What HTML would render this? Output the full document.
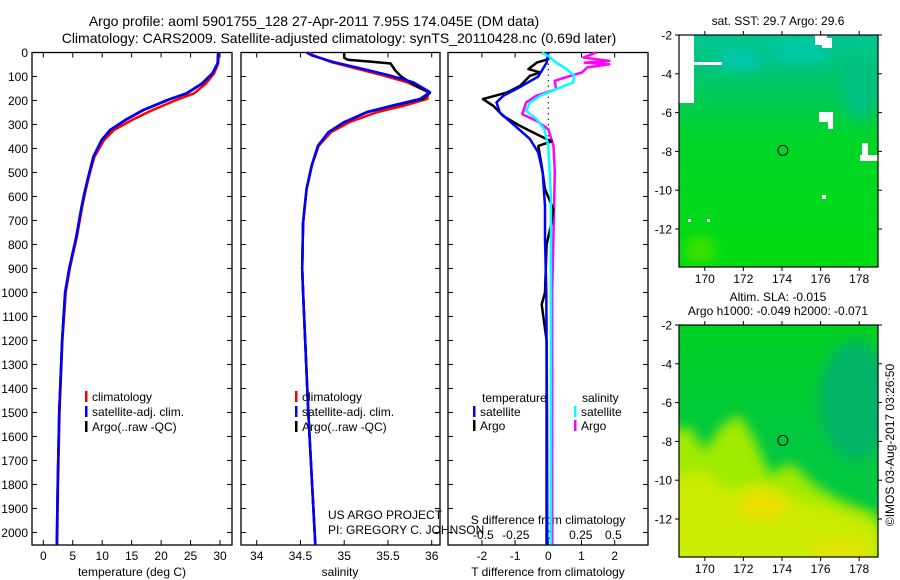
<!DOCTYPE html>
<html><head><meta charset="utf-8"><style>
body{margin:0;background:#fff;}
svg{display:block;font-family:"Liberation Sans",sans-serif;}
</style></head><body>
<svg id="fig" width="900" height="580" viewBox="0 0 900 580" xmlns="http://www.w3.org/2000/svg">
<defs>
<filter id="blur" x="-20%" y="-20%" width="140%" height="140%"><feGaussianBlur stdDeviation="6"/></filter>
<linearGradient id="sstg" x1="0" y1="0" x2="0" y2="1">
<stop offset="0" stop-color="#00c894"/><stop offset="0.12" stop-color="#00c47c"/><stop offset="0.3" stop-color="#00cc50"/><stop offset="0.45" stop-color="#00d628"/><stop offset="1" stop-color="#00dc10"/></linearGradient>
<linearGradient id="slag" x1="0" y1="0" x2="0" y2="1">
<stop offset="0" stop-color="#00d020"/><stop offset="0.5" stop-color="#00c840"/><stop offset="1" stop-color="#00c840"/></linearGradient>
<clipPath id="c1"><rect x="679" y="35" width="199" height="232"/></clipPath>
<clipPath id="c2"><rect x="679" y="325" width="199" height="232"/></clipPath>
</defs>
<g id="title">
<text x="314" y="26" font-size="14" text-anchor="middle">Argo profile: aoml 5901755_128 27-Apr-2011 7.95S 174.045E (DM data)</text>
<text x="339" y="43" font-size="14" text-anchor="middle">Climatology: CARS2009. Satellite-adjusted climatology: synTS_20110428.nc (0.69d later)</text>
</g>
<g id="maps">
<text x="778" y="25" font-size="12" text-anchor="middle">sat. SST: 29.7 Argo: 29.6</text>
<g clip-path="url(#c1)">
<rect x="679" y="35" width="199" height="232" fill="url(#sstg)"/>
<ellipse cx="740" cy="60" rx="25" ry="10" fill="#00c8b0" filter="url(#blur)"/>
<ellipse cx="800" cy="52" rx="30" ry="12" fill="#00c8a8" filter="url(#blur)"/>
<ellipse cx="860" cy="90" rx="18" ry="30" fill="#00c080" filter="url(#blur)"/>
<ellipse cx="700" cy="250" rx="15" ry="14" fill="#40e000" filter="url(#blur)"/>
<polygon points="679,35 694,35 694,62 722,62 722,65 694,65 694,103 679,103" fill="#fff"/>
<rect x="815" y="35" width="12" height="10" fill="#fff"/><rect x="822" y="38" width="10" height="10" fill="#fff"/>
<rect x="819" y="112" width="14" height="10" fill="#fff"/><rect x="828" y="115" width="5" height="14" fill="#fff"/>
<rect x="862" y="143" width="6" height="16" fill="#fff"/><rect x="860" y="155" width="18" height="6" fill="#fff"/>
<rect x="822" y="195" width="4" height="4" fill="#fff"/><rect x="688" y="219" width="3" height="3" fill="#fff"/><rect x="707" y="219" width="3" height="3" fill="#fff"/>
</g>
<text x="778" y="301" font-size="12" text-anchor="middle">Altim. SLA: -0.015</text>
<text x="778" y="315" font-size="12" text-anchor="middle">Argo h1000: -0.049 h2000: -0.071</text>
<g clip-path="url(#c2)">
<rect x="679" y="325" width="199" height="232" fill="url(#slag)"/>
<ellipse cx="855" cy="400" rx="35" ry="60" fill="#00b468" filter="url(#blur)"/>
<polygon points="660,430 690,428 705,450 722,425 740,415 755,440 770,475 790,462 815,485 840,500 880,515 880,580 660,580" fill="#a0ea00" filter="url(#blur)"/>
<polygon points="660,480 700,470 730,490 760,482 800,500 850,515 880,530 880,580 660,580" fill="#ccec00" filter="url(#blur)"/>
<ellipse cx="762" cy="505" rx="25" ry="15" fill="#eae000" filter="url(#blur)"/>
<ellipse cx="840" cy="550" rx="30" ry="10" fill="#e4e400" filter="url(#blur)"/>
</g>
</g>
<g id="plots"></g>
<text x="0" y="0" font-size="12" transform="translate(894,445) rotate(-90)" text-anchor="middle">©IMOS 03-Aug-2017 03:26:50</text>
<text x="328" y="519" font-size="12">US ARGO PROJECT</text>
<text x="328" y="534" font-size="12">PI: GREGORY C. JOHNSON</text>
</svg>
<script>
// ---- data ----
const tDepth   = [0,45,87,129,170,198,240,281,323,365,434,503,573,642,767,900,1000,1200,1500,1800,2050];
const tArgo    = [29.7,29.6,28.7,27.0,24.4,21.2,17.0,14.0,11.4,9.9,8.5,7.8,7.1,6.5,5.6,4.4,3.7,3.2,2.7,2.45,2.3];
const tSat     = [29.7,29.6,28.7,26.9,24.3,21.0,16.9,13.9,11.3,9.9,8.5,7.8,7.1,6.5,5.6,4.4,3.7,3.2,2.7,2.45,2.3];
const tClim    = [29.8,29.7,29.0,27.6,25.6,22.6,18.5,15.1,12.0,10.3,8.7,7.9,7.2,6.6,5.7,4.5,3.8,3.25,2.75,2.5,2.35];
const sDepth   = [0,12,40,68,96,124,165,193,220,248,290,332,388,470,568,707,900,1000,1500,2050];
const sSat     = [34.57,34.63,34.88,35.21,35.52,35.79,35.98,35.87,35.56,35.26,35.0,34.82,34.70,34.63,34.57,34.53,34.52,34.53,34.59,34.67];
const sClim    = [34.59,34.65,34.85,35.15,35.45,35.72,35.96,35.95,35.70,35.38,35.06,34.85,34.71,34.63,34.57,34.53,34.52,34.53,34.59,34.67];
const sArgoD   = [0,22,30,38,46,73,100,135,168,193,220,248,290,332,388,470,568,707,900,1000,1500,2050];
const sArgo    = [35.0,35.0,35.04,35.3,35.53,35.58,35.65,35.8,35.98,35.9,35.58,35.27,35.0,34.82,34.70,34.63,34.57,34.53,34.52,34.53,34.59,34.67];
const dDepthA  = [0,28,42,69,83,97,139,167,194,222,264,306,333,361,370,389,472,569,653,708,800,1000,1050,1200,1500,2050];
const dTArgo   = [-0.05,0,-0.35,-0.6,-0.25,-0.55,-0.85,-1.25,-1.97,-1.66,-1.36,-0.85,-0.46,-0.05,0.1,-0.3,-0.2,-0.1,0.15,0.1,-0.05,-0.1,-0.2,-0.05,-0.05,-0.05];
const dDepthS  = [0,42,100,140,180,208,250,306,361,417,500,639,778,1000,1500,2050];
const dTSat    = [0,-0.05,-0.3,-0.8,-1.35,-1.56,-1.46,-1.0,-0.55,-0.3,-0.17,-0.1,-0.1,-0.06,-0.04,-0.03];
const dSDepthA = [0,14,21,28,35,42,49,62,83,104,118,153,180,208,257,285,320,389,500,1000,2050];
const dSArgo   = [0.37,0.3,0.27,0.37,0.47,0.28,0.47,0.3,0.26,0.13,0.05,0.06,-0.09,-0.17,-0.2,-0.09,0,0.04,0.05,0.03,0.03];
const dSDepthS = [0,14,42,69,97,125,153,180,208,243,278,320,389,600,1000,2050];
const dSSat    = [-0.05,0,0.06,0.14,0.2,0.19,0.06,-0.06,-0.14,-0.17,-0.09,-0.03,0,0.02,0.02,0.02];
const depthTicks = [0,100,200,300,400,500,600,700,800,900,1000,1100,1200,1300,1400,1500,1600,1700,1800,1900,2000];
const tTicks = [0,5,10,15,20,25,30];
const sTicks = [34,34.5,35,35.5,36];
const sTickLabels = ['34','34.5','35','35.5','36'];
const dTTicks = [-2,-1,0,1,2];
const dSTicks = [-0.5,-0.25,0,0.25,0.5];
const dSTickLabels = ['-0.5','-0.25','0','0.25','0.5'];
const mapLon = [170,172,174,176,178];
const mapLat = [-2,-4,-6,-8,-10,-12];

const NS='http://www.w3.org/2000/svg';
const root=document.getElementById('plots');
function mk(tag,attrs,parent){const e=document.createElementNS(NS,tag);for(const k in attrs)e.setAttribute(k,attrs[k]);(parent||root).appendChild(e);return e;}
const TOP=52.5, BOT=545;
const yD=d=>TOP+d*0.24;
const xT=t=>43.3+t*5.89;
const xS=s=>256.7+(s-34)*87.5;
const xDT=v=>548.3+v*33.2;
const xDS=v=>548.3+v*130;
const panels=[[32,232],[241,440],[448,648]];

function line(xs,ds,xf,color,w,name){
  const p=mk('polyline',{points:xs.map((v,i)=>xf(v).toFixed(1)+','+yD(ds[i]).toFixed(1)).join(' '),fill:'none',stroke:color,'stroke-width':w,'stroke-linejoin':'round'});
  
  
}
panels.forEach((pn,i)=>{
  const r=mk('rect',{x:pn[0],y:TOP,width:pn[1]-pn[0],height:BOT-TOP,fill:'none',stroke:'#000','stroke-width':1.3});
  
  
  depthTicks.forEach(d=>{
    mk('line',{x1:pn[0],x2:pn[0]+5,y1:yD(d),y2:yD(d),stroke:'#000'});
    mk('line',{x1:pn[1]-5,x2:pn[1],y1:yD(d),y2:yD(d),stroke:'#000'});
  });
});
depthTicks.forEach(d=>{
  const t=mk('text',{x:28,y:yD(d)+4.5,'font-size':12,'text-anchor':'end'});
  t.textContent=d;
  
  
});
function xticks(ticks,labels,xf,ly){
  ticks.forEach((v,i)=>{
    mk('line',{x1:xf(v),x2:xf(v),y1:TOP,y2:TOP+5,stroke:'#000'});
    mk('line',{x1:xf(v),x2:xf(v),y1:BOT-5,y2:BOT,stroke:'#000'});
    const t=mk('text',{x:xf(v),y:ly,'font-size':12,'text-anchor':'middle'});
    t.textContent=labels[i];
    
    
  });
}
xticks(tTicks,tTicks.map(String),xT,560);
xticks(sTicks,sTickLabels,xS,560);
xticks(dTTicks,dTTicks.map(String),xDT,560);
dSTicks.forEach((v,i)=>{
  const t=mk('text',{x:xDS(v),y:539,'font-size':12,'text-anchor':'middle'});
  t.textContent=dSTickLabels[i];
  
  
});
function lbl(x,y,s,name){const t=mk('text',{x:x,y:y,'font-size':12,'text-anchor':'middle'});t.textContent=s;}
lbl(132,576,'temperature (deg C)','temperature-axis-title');
lbl(340,576,'salinity','salinity-axis-title');
lbl(548,576,'T difference from climatology','t-diff-axis-title');
lbl(548,524,'S difference from climatology','s-diff-axis-title');
const z=mk('line',{x1:548.3,x2:548.3,y1:TOP,y2:yD(360),stroke:'#000','stroke-dasharray':'1.5 4'});


line(tClim,tDepth,xT,'#f00',2.5,'temp-climatology-line');
line(tArgo,tDepth,xT,'#000',2.5,'temp-argo-line');
line(tSat,tDepth,xT,'#00f',2.5,'temp-satellite-line');
line(sClim,sDepth,xS,'#f00',2.5,'sal-climatology-line');
line(sArgo,sArgoD,xS,'#000',2.5,'sal-argo-line');
line(sSat,sDepth,xS,'#00f',2.5,'sal-satellite-line');
line(dSArgo,dSDepthA,xDS,'#f0f',2.5,'s-diff-argo-line');
line(dTArgo,dDepthA,xDT,'#000',2.5,'t-diff-argo-line');
line(dTSat,dDepthS,xDT,'#00f',2.5,'t-diff-satellite-line');
line(dSSat,dSDepthS,xDS,'#0ff',2.5,'s-diff-satellite-line');
function leg(x,y,color,txt,name){
  const b=mk('rect',{x:x,y:y-6,width:2.5,height:11,fill:color});
  
  
  const t=mk('text',{x:x+7,y:y+4,'font-size':12});t.textContent=txt;
  
  
}
[85,295].forEach(x=>{
  leg(x,397,'#f00','climatology','legend-climatology');
  leg(x,412,'#00f','satellite-adj. clim.','legend-satellite');
  leg(x,427,'#000','Argo(..raw -QC)','legend-argo');
});
const lt=mk('text',{x:482,y:402,'font-size':12});lt.textContent='temperature';


const ls=mk('text',{x:582,y:402,'font-size':12});ls.textContent='salinity';


leg(473,412,'#00f','satellite','legend-t-satellite');
leg(473,426,'#000','Argo','legend-t-argo');
leg(574,412,'#0ff','satellite','legend-s-satellite');
leg(574,426,'#f0f','Argo','legend-s-argo');
const mxL=lon=>782+(lon-174)*19.3;
[[35,267],[325,557]].forEach(([y0,y1],mi)=>{
  const r=mk('rect',{x:679,y:y0,width:199,height:y1-y0,fill:'none',stroke:'#000','stroke-width':1.2});
  
  
  const my=lat=>y0+(-2-lat)*19.4;
  mapLon.forEach(l=>{
    mk('line',{x1:mxL(l),x2:mxL(l),y1:y0,y2:y0-4,stroke:'#000'});
    mk('line',{x1:mxL(l),x2:mxL(l),y1:y1,y2:y1+4,stroke:'#000'});
    const t=mk('text',{x:mxL(l),y:y1+16,'font-size':12,'text-anchor':'middle'});t.textContent=l;
    
    
  });
  mapLat.forEach(l=>{
    mk('line',{x1:679,x2:675,y1:my(l),y2:my(l),stroke:'#000'});
    mk('line',{x1:878,x2:882,y1:my(l),y2:my(l),stroke:'#000'});
    const t=mk('text',{x:672,y:my(l)+4.5,'font-size':12,'text-anchor':'end'});t.textContent=l;
    
    
  });
  const c=mk('circle',{cx:mxL(174.045),cy:my(-7.95),r:5,fill:'none',stroke:'#000','stroke-width':1});
  
  
});
</script>
</body></html>
